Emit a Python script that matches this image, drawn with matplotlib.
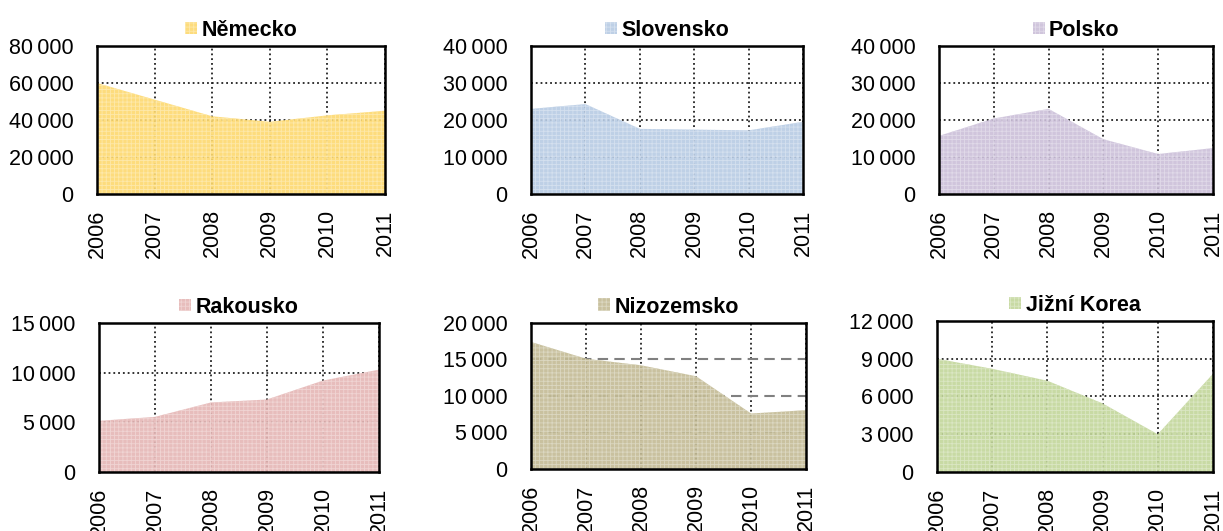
import matplotlib
matplotlib.use('Agg')
import matplotlib.pyplot as plt
import matplotlib.colors as mcolors
from matplotlib.ticker import FuncFormatter, MultipleLocator
import numpy as np

plt.rcParams['font.family'] = ['Liberation Sans', 'DejaVu Sans']
plt.rcParams['hatch.linewidth'] = 0.6

years = [2006, 2007, 2008, 2009, 2010, 2011]

nemecko = [60000, 51000, 42000, 39000, 42500, 45000]
slovensko = [23000, 24300, 17600, 17400, 17200, 19500]
polsko = [15700, 20400, 23000, 14800, 10800, 12400]
rakousko = [5150, 5550, 7000, 7300, 9200, 10300]
nizozemsko = [17400, 15100, 14200, 12700, 7600, 8050]
jizni_korea = [9000, 8200, 7250, 5450, 3000, 7800]

names = ['Německo', 'Slovensko', 'Polsko', 'Rakousko', 'Nizozemsko', 'Jižní Korea']
series = [nemecko, slovensko, polsko, rakousko, nizozemsko, jizni_korea]
colors = ['#fdd96f', '#b7cbe4', '#cbbfd9', '#e5b6b5', '#c3bb95', '#c2d69a']
ymax = [80000, 40000, 40000, 15000, 20000, 12000]
ystep = [20000, 10000, 10000, 5000, 5000, 3000]

# axes boxes in figure fraction (left, bottom, width, height)
boxes = [
    [0.0793, 0.6347, 0.2355, 0.2787],
    [0.4342, 0.6347, 0.2224, 0.2787],
    [0.7678, 0.6347, 0.2240, 0.2787],
    [0.0809, 0.1111, 0.2289, 0.2806],
    [0.4342, 0.1168, 0.2249, 0.2750],
    [0.7661, 0.1111, 0.2257, 0.2844],
]

fmt = FuncFormatter(lambda v, p: f'{int(v):,}'.replace(',', '\u2009'))

fig = plt.figure(figsize=(12.23, 5.31), dpi=100)

for i in range(6):
    ax = fig.add_axes(boxes[i])
    light = 0.55 * np.array(mcolors.to_rgb(colors[i])) + 0.45
    ax.fill_between(years, series[i], 0, facecolor=colors[i], edgecolor=light,
                    hatch='++++', linewidth=0, alpha=0.9, label=names[i], zorder=2)

    ax.set_xlim(2006, 2011)
    ax.set_ylim(0, ymax[i])
    ax.yaxis.set_major_locator(MultipleLocator(ystep[i]))
    ax.yaxis.set_major_formatter(fmt)
    ax.set_xticks(years)
    ax.set_xticklabels([str(y) for y in years], rotation=90)
    ax.tick_params(axis='both', length=0, labelsize=15.5)
    ax.tick_params(axis='y', pad=17)
    ax.tick_params(axis='x', pad=11)

    ax.set_axisbelow(True)
    ax.grid(axis='x', linestyle=':', color='#222222', linewidth=1.3)
    if names[i] == 'Nizozemsko':
        ax.grid(axis='y', linestyle=(0, (5, 3)), color='#808080', linewidth=1.5)
    else:
        ax.grid(axis='y', linestyle=':', color='#222222', linewidth=1.3)

    for s in ax.spines.values():
        s.set_linewidth(1.8)
        s.set_color('black')
        s.set_zorder(3)

    ax.legend(loc='lower center', bbox_to_anchor=(0.5, 1.0), frameon=False,
              prop={'weight': 'bold', 'size': 15.5}, handlelength=0.55,
              handleheight=0.55, handletextpad=0.2, borderpad=0.15,
              borderaxespad=0.1)

plt.savefig('out.png', dpi=100)
